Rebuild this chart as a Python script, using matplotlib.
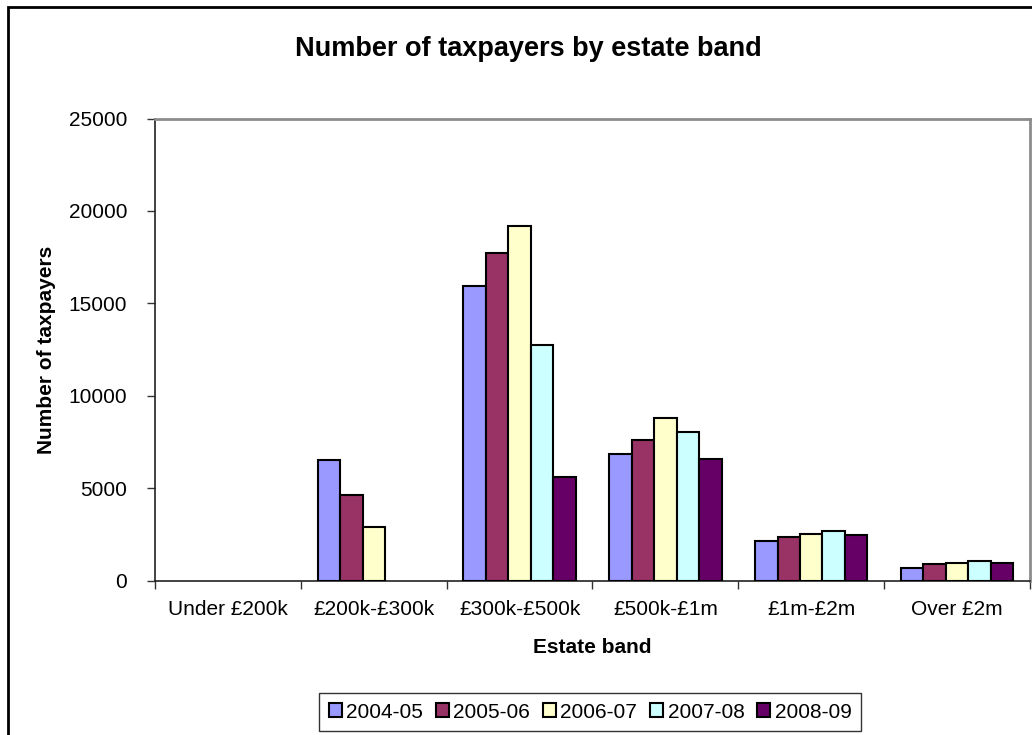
import numpy as np
import matplotlib
matplotlib.use("Agg")
import matplotlib.pyplot as plt
from matplotlib.patches import Rectangle

plt.rcParams['font.family'] = ['Liberation Sans', 'DejaVu Sans']

# Estate bands and number of taxpayers per tax year (nan = no taxpayers shown)
bands = ["Under £200k", "£200k-£300k", "£300k-£500k", "£500k-£1m", "£1m-£2m", "Over £2m"]
years = ["2004-05", "2005-06", "2006-07", "2007-08", "2008-09"]
taxpayers_2004_05 = [np.nan, 6520, 15950, 6850, 2160, 680]
taxpayers_2005_06 = [np.nan, 4640, 17720, 7590, 2340, 880]
taxpayers_2006_07 = [np.nan, 2910, 19200, 8780, 2530, 960]
taxpayers_2007_08 = [np.nan, np.nan, 12740, 8050, 2700, 1060]
taxpayers_2008_09 = [np.nan, np.nan, 5580, 6570, 2440, 960]
series = [taxpayers_2004_05, taxpayers_2005_06, taxpayers_2006_07,
          taxpayers_2007_08, taxpayers_2008_09]
colors = ["#9999FF", "#993366", "#FFFFCC", "#CCFFFF", "#660066"]

W, H = 1032, 735
fig = plt.figure(figsize=(W / 100, H / 100), dpi=100)
ax = fig.add_axes([155 / W, 1 - 580.5 / H, (1030 - 155) / W, (580.5 - 118.5) / H])

x = np.arange(len(bands))
bw = 1 / 6.5
for j, (vals, c, lab) in enumerate(zip(series, colors, years)):
    ax.bar(x + (j - 2) * bw, vals, width=bw, color=c, edgecolor="black",
           linewidth=1.5, label=lab, zorder=3)

ax.set_xlim(-0.5, len(bands) - 0.5)
ax.set_ylim(0, 25000)
ax.set_yticks(np.arange(0, 25001, 5000))
ax.set_xticks(x)
ax.set_xticklabels(bands)
ax.set_xticks(np.arange(-0.5, len(bands), 1.0), minor=True)
ax.tick_params(axis="x", which="major", length=0, pad=14, labelsize=15)
ax.tick_params(axis="x", which="minor", length=6, width=1, color="#333333")
ax.tick_params(axis="y", length=6, width=1, pad=14, labelsize=15, color="#333333")

for side in ("left", "bottom"):
    ax.spines[side].set_color("#222222")
    ax.spines[side].set_linewidth(1.2)
for side in ("top", "right"):
    ax.spines[side].set_color("#8c8c8c")
    ax.spines[side].set_linewidth(2)

ax.set_xlabel("Estate band", fontsize=15, fontweight="bold", labelpad=14)
ax.set_ylabel("Number of taxpayers", fontsize=15, fontweight="bold", labelpad=9)

fig.text(528 / W, 1 - 49 / H, "Number of taxpayers by estate band",
         ha="center", va="center", fontsize=19.5, fontweight="bold")

leg = fig.legend(loc="center", bbox_to_anchor=(590 / W, 1 - 712 / H), ncol=5,
                 fontsize=15, frameon=True, fancybox=False, handlelength=0.65,
                 handleheight=0.65, handletextpad=0.2, columnspacing=0.6,
                 borderpad=0.45, borderaxespad=0)
leg.get_frame().set_edgecolor("black")
leg.get_frame().set_linewidth(1.0)

# Outer chart frame
fig.patches.append(Rectangle((8 / W, -0.05), 1.2, 1 - 7 / H + 0.05,
                             transform=fig.transFigure, fill=False,
                             edgecolor="black", linewidth=2))

fig.savefig("out.png", dpi=100)
